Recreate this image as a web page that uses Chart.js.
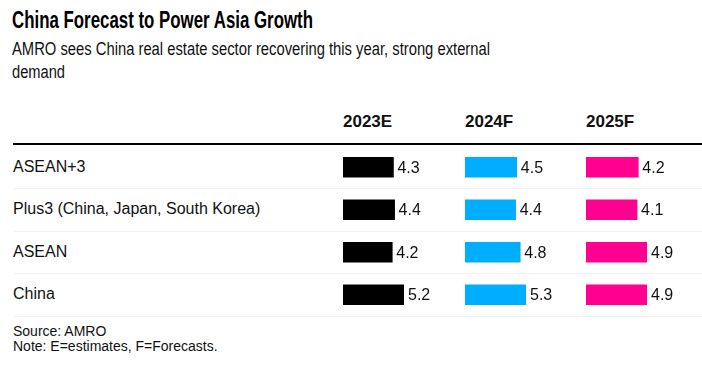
<!DOCTYPE html>
<html><head><meta charset="utf-8">
<script src="https://cdn.jsdelivr.net/npm/chart.js@4/dist/chart.umd.min.js"></script>
<style>
html,body{margin:0;padding:0;background:#fff}
body{width:702px;height:372px;position:relative;overflow:hidden;font-family:"Liberation Sans",Arial,sans-serif;color:#000}
.abs{position:absolute;white-space:nowrap}
.fit{transform-origin:0 0;display:inline-block}
#title{left:12px;top:8px;font-weight:bold;font-size:24px;line-height:24px;color:#000}
.sub{left:12px;font-size:17.5px;line-height:17.5px;color:#111}
.hdr{font-weight:bold;font-size:17px;line-height:17px;top:113px;color:#111}
.row{left:13px;font-size:16px;height:20px;line-height:20px;color:#111}
.sep{left:13px;right:0;height:1px;background:#f1f1f1}
.foot{left:13px;font-size:14px;line-height:15px;color:#111}
canvas{position:absolute}
</style></head>
<body>
<div id="title" class="abs"><span class="fit" data-w="301">China Forecast to Power Asia Growth</span></div>
<div class="abs sub" style="top:41px"><span class="fit" data-w="478">AMRO sees China real estate sector recovering this year, strong external</span></div>
<div class="abs sub" style="top:64px"><span class="fit" data-w="53">demand</span></div>
<div class="abs" style="left:13px;right:0;top:143px;height:2px;background:#000"></div>
<div id="rows"></div>
<div class="abs foot" style="top:324px">Source: AMRO</div>
<div class="abs foot" style="top:339px">Note: E=estimates, F=Forecasts.</div>
<script>
// ---- data ----
const categories = ["ASEAN+3", "Plus3 (China, Japan, South Korea)", "ASEAN", "China"];
const columnLabels = ["2023E", "2024F", "2025F"];
const values2023E = [4.3, 4.4, 4.2, 5.2];
const values2024F = [4.5, 4.4, 4.8, 5.3];
const values2025F = [4.2, 4.1, 4.9, 4.9];
const seriesColors = ["#000000", "#00aeff", "#ff0090"];

// ---- layout ----
const gridTop = 146, rowH = 42.5, barArea = 61, colLefts = [343, 465, 586];
const rowsEl = document.getElementById('rows');
categories.forEach((c, i) => {
  const d = document.createElement('div');
  d.className = 'abs row';
  d.style.top = (gridTop + rowH * (i + 0.5) - 10.5) + 'px';
  d.textContent = c;
  rowsEl.appendChild(d);
  const s = document.createElement('div');
  s.className = 'abs sep';
  s.style.top = (gridTop + rowH * (i + 1) - 0.5) + 'px';
  rowsEl.appendChild(s);
});
columnLabels.forEach((h, i) => {
  const d = document.createElement('div');
  d.className = 'abs hdr';
  d.style.left = colLefts[i] + 'px';
  d.textContent = h;
  document.body.appendChild(d);
});
document.querySelectorAll('.fit').forEach(el => {
  const w = el.getBoundingClientRect().width;
  const t = +el.dataset.w;
  if (w > 0) el.style.transform = 'scaleX(' + (t / w) + ')';
});

const valueLabels = {
  id: 'valueLabels',
  afterDatasetsDraw(chart) {
    const ctx = chart.ctx;
    const meta = chart.getDatasetMeta(0);
    ctx.save();
    ctx.font = '16px "Liberation Sans", Arial, sans-serif';
    ctx.fillStyle = '#111';
    ctx.textAlign = 'left';
    ctx.textBaseline = 'middle';
    meta.data.forEach((bar, i) => {
      ctx.fillText(chart.data.datasets[0].data[i].toFixed(1), bar.x + 4, bar.y + 1);
    });
    ctx.restore();
  }
};

[values2023E, values2024F, values2025F].forEach((vals, i) => {
  const cv = document.createElement('canvas');
  const W = barArea + 60, H = rowH * categories.length;
  cv.width = W; cv.height = H;
  cv.style.width = W + 'px'; cv.style.height = H + 'px';
  cv.style.left = colLefts[i] + 'px';
  cv.style.top = gridTop + 'px';
  document.body.appendChild(cv);
  new Chart(cv, {
    type: 'bar',
    data: {
      labels: categories,
      datasets: [{ data: vals, backgroundColor: seriesColors[i], barThickness: 20, borderWidth: 0 }]
    },
    options: {
      indexAxis: 'y',
      responsive: false,
      animation: false,
      events: [],
      layout: { padding: { left: 0, right: 60, top: 0, bottom: 0 } },
      plugins: { legend: { display: false }, tooltip: { enabled: false } },
      scales: {
        x: { display: false, min: 0, max: Math.max(...vals) },
        y: { display: false }
      }
    },
    plugins: [valueLabels]
  });
});
</script>
</body></html>
